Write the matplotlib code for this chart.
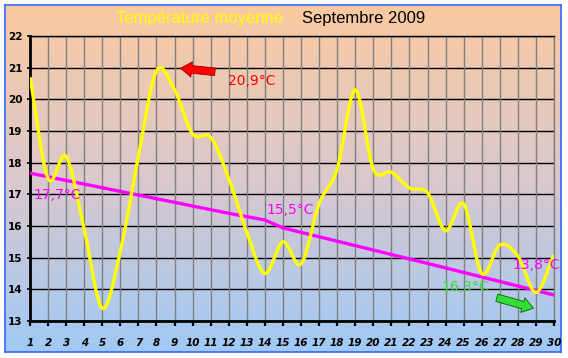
import numpy as np
import matplotlib
matplotlib.use("Agg")
import matplotlib.pyplot as plt

# Données
jours = list(range(1, 31))
temp_moy = [20.7, 17.5, 18.2, 15.9, 13.4, 15.2, 18.2, 20.9, 20.3, 18.9,
            18.8, 17.5, 15.8, 14.5, 15.5, 14.8, 16.7, 17.8, 20.3, 17.8,
            17.7, 17.2, 17.05, 15.85, 16.7, 14.5, 15.4, 15.05, 13.9, 15.1]

# Normales (ligne magenta)
normale_jours = [1, 12, 14, 15, 22, 30]
normale_vals = [17.67, 16.4, 16.19, 15.94, 14.96, 13.82]

y_ticks = list(range(13, 23))

# Couleurs
JAUNE = "#FFFF00"
MAGENTA = "#FF00FF"
ROUGE = "#FF0000"
VERT = "#33DD33"


def lissage(x, y, n=20):
    """Lissage type Catmull-Rom (comme la courbe lissée d'Excel)."""
    x = np.asarray(x, float)
    y = np.asarray(y, float)
    px = np.concatenate([[2 * x[0] - x[1]], x, [2 * x[-1] - x[-2]]])
    py = np.concatenate([[2 * y[0] - y[1]], y, [2 * y[-1] - y[-2]]])
    xs, ys = [], []
    t = np.linspace(0, 1, n, endpoint=False)
    for i in range(1, len(px) - 2):
        for p, out in ((px, xs), (py, ys)):
            p0, p1, p2, p3 = p[i - 1], p[i], p[i + 1], p[i + 2]
            out.extend(0.5 * ((2 * p1) + (-p0 + p2) * t
                              + (2 * p0 - 5 * p1 + 4 * p2 - p3) * t ** 2
                              + (-p0 + 3 * p1 - 3 * p2 + p3) * t ** 3))
    xs.append(x[-1])
    ys.append(y[-1])
    return np.array(xs), np.array(ys)


W, H = 568, 358
fig = plt.figure(figsize=(W / 100, H / 100), dpi=100)
fig.patch.set_facecolor("white")

# Fond dégradé avec bordure bleue
bg = fig.add_axes([5 / W, 1 - 352 / H, 556 / W, 347 / H])
haut = np.array([250, 202, 160]) / 255
milieu = np.array([218, 200, 205]) / 255
bas = np.array([160, 202, 245]) / 255
g = np.linspace(0, 1, 256)[:, None]
grad = np.where(g < 0.5, haut + (milieu - haut) * (g / 0.5),
                milieu + (bas - milieu) * ((g - 0.5) / 0.5))
bg.imshow(grad[:, None, :].repeat(2, axis=1), aspect="auto", extent=[0, 1, 0, 1])
bg.set_xticks([])
bg.set_yticks([])
for s in bg.spines.values():
    s.set_color("#3366FF")
    s.set_linewidth(1.2)

ax = fig.add_axes([30 / W, 1 - 321 / H, 524 / W, 285 / H])
ax.patch.set_alpha(0)

# Grille
for yv in y_ticks:
    ax.axhline(yv, color="black", lw=1, zorder=1)
for xv in jours:
    ax.axvline(xv, color="#808080", lw=1, zorder=1)

# Normale
ax.plot(normale_jours, normale_vals, color=MAGENTA, lw=2.4, zorder=3)

# Température moyenne lissée
xs, ys = lissage(jours, temp_moy)
ax.plot(xs, ys, color=JAUNE, lw=2.4, zorder=4, solid_capstyle="butt")

ax.set_xlim(1, 30)
ax.set_ylim(13, 22)
ax.set_xticks(jours)
ax.set_yticks(y_ticks)
ax.set_xticklabels([str(j) for j in jours], fontsize=7.5, fontweight="bold",
                   fontstyle="italic")
ax.set_yticklabels([str(v) for v in y_ticks], fontsize=7.5, fontweight="bold")
ax.tick_params(axis="x", direction="out", length=3.5, width=1.6, pad=9)
ax.tick_params(axis="y", direction="out", length=2.5, width=1.2, pad=3)

ax.spines["left"].set_linewidth(2)
ax.spines["bottom"].set_linewidth(2)
ax.spines["top"].set_linewidth(1)
ax.spines["right"].set_color("#808080")
ax.spines["right"].set_linewidth(1)

# Annotations
txt = dict(fontsize=10, va="center", ha="left", zorder=6)
ax.text(1.17, 16.98, "17,7°C", color=MAGENTA, **txt)
ax.text(11.94, 20.58, "20,9°C", color=ROUGE, **txt)
ax.text(14.09, 16.5, "15,5°C", color=MAGENTA, **txt)
ax.text(27.69, 14.77, "13,8°C", color=MAGENTA, **txt)
ax.text(23.76, 14.07, "16,3°C", color=VERT, **txt)

fleche = "simple,head_length=0.8,head_width=1.1,tail_width=0.55"
ax.annotate("", xy=(9.18, 20.99), xytext=(11.39, 20.86),
            arrowprops=dict(arrowstyle=fleche, fc=ROUGE, ec="#990000", lw=0.6),
            zorder=6)
ax.annotate("", xy=(29.01, 13.38), xytext=(26.69, 13.76),
            arrowprops=dict(arrowstyle=fleche, fc=VERT, ec="#006600", lw=0.6),
            zorder=6)

# Titre
fig.text(292 / W, 1 - 19 / H, "Température moyenne :", color=JAUNE,
         fontsize=12, fontfamily="Liberation Sans", ha="right", va="center")
fig.text(302 / W, 1 - 19 / H, "Septembre 2009", color="black",
         fontsize=12, fontfamily="Liberation Sans", ha="left", va="center")

fig.savefig("out.png", dpi=100)
